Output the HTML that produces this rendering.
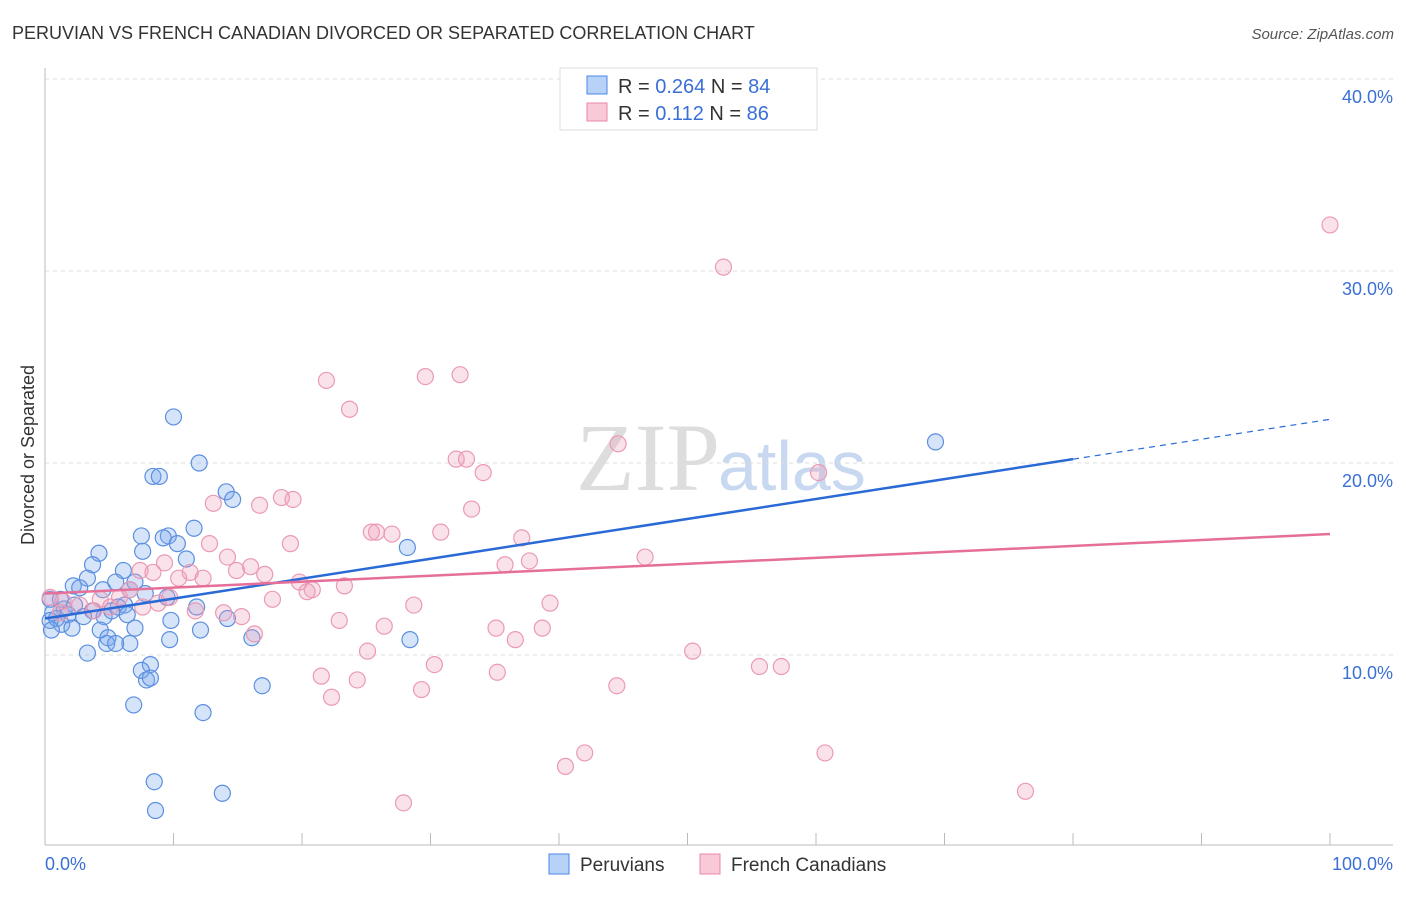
<!DOCTYPE html>
<html><head><meta charset="utf-8"><style>
body{margin:0;background:#fff;font-family:"Liberation Sans",sans-serif}
</style></head><body>
<svg width="1406" height="892" id="c" xmlns="http://www.w3.org/2000/svg">
<text x="12" y="39" font-size="18" fill="#333">PERUVIAN VS FRENCH CANADIAN DIVORCED OR SEPARATED CORRELATION CHART</text>
<text x="1394" y="39" font-size="15" fill="#555" text-anchor="end" font-style="italic">Source: ZipAtlas.com</text>
<text x="34" y="455" font-size="18" fill="#333" text-anchor="middle" transform="rotate(-90 34 455)">Divorced or Separated</text>
<text x="720" y="490" font-size="96" fill="#ddd" text-anchor="end" font-family="Liberation Serif">ZIP</text>
<text x="718" y="490" font-size="70" fill="#c8d8f0">atlas</text>
<g id="grid"></g><g id="pts"></g><g id="lines"></g>
<g>
<rect x="560" y="68" width="257" height="62" fill="#fff" stroke="#ddd"/>
<rect x="587" y="76" width="20" height="18" fill="#b7d1f7" stroke="#4a86e8"/>
<rect x="587" y="103" width="20" height="18" fill="#f9c9d8" stroke="#e88aa8"/>
<text x="618" y="93" font-size="20" fill="#333">R = <tspan fill="#3a6fd6">0.264</tspan>   N = <tspan fill="#3a6fd6">84</tspan></text>
<text x="618" y="120" font-size="20" fill="#333">R =  <tspan fill="#3a6fd6">0.112</tspan>   N = <tspan fill="#3a6fd6">86</tspan></text>
</g>
<g>
<rect x="549" y="854" width="20" height="20" fill="#b7d1f7" stroke="#4a86e8"/>
<text x="580" y="871" font-size="19" fill="#333">Peruvians</text>
<rect x="700" y="854" width="20" height="20" fill="#f9c9d8" stroke="#e88aa8"/>
<text x="731" y="871" font-size="19" fill="#333">French Canadians</text>
</g>
<text x="45" y="870" font-size="18" fill="#3a6fd6">0.0%</text>
<text x="1393" y="870" font-size="18" fill="#3a6fd6" text-anchor="end">100.0%</text>
</svg>
<script>
const yTicks=[10,20,30,40];
const yTickLabels=["10.0%","20.0%","30.0%","40.0%"];
const blueX=[10.0,12.0,8.4,8.9,14.1,14.6,69.3,28.2,11.6,7.5,9.6,9.2,10.3,7.6,4.2,11.0,3.7,6.1,3.3,2.2,2.7,5.5,7.0,4.5,6.6,7.8,9.5,1.2,0.4,1.5,2.3,3.7,5.7,6.2,11.8,0.6,0.9,1.8,3.0,4.6,6.4,9.8,14.2,0.4,1.3,2.1,7.0,12.1,4.3,4.9,4.8,6.6,5.5,9.7,16.1,28.4,3.3,8.2,7.5,7.9,8.2,16.9,6.9,12.3,8.5,13.8,8.6,0.5,5.2];
const blueY=[22.4,20.0,19.3,19.3,18.5,18.1,21.1,15.6,16.6,16.2,16.2,16.1,15.8,15.4,15.3,15.0,14.7,14.4,14.0,13.6,13.5,13.8,13.8,13.4,13.4,13.2,13.0,12.9,12.9,12.4,12.6,12.3,12.5,12.6,12.5,12.2,11.9,12.1,12.0,12.0,12.1,11.8,11.9,11.8,11.6,11.4,11.4,11.3,11.3,10.9,10.6,10.6,10.6,10.8,10.9,10.8,10.1,9.5,9.2,8.7,8.8,8.4,7.4,7.0,3.4,2.8,1.9,11.3,12.3];
const pinkX=[100,52.8,21.9,29.6,32.3,23.7,44.6,32.0,32.8,34.1,60.2,18.4,19.3,13.1,16.7,33.2,25.4,25.8,27.0,30.8,37.1,12.8,19.1,46.7,14.2,37.7,35.8,9.3,16.0,14.9,7.4,8.4,11.3,17.1,12.3,10.4,19.8,23.3,20.8,20.4,6.6,0.4,1.4,4.3,5.8,9.7,17.7,8.8,39.3,28.7,2.7,7.6,11.7,13.9,3.8,15.3,22.9,26.4,35.1,38.7,16.3,36.6,25.1,50.4,30.3,55.6,57.3,21.5,35.2,24.3,29.3,44.5,22.3,42.0,60.7,40.5,76.3,27.9,1.2,5.1];
const pinkY=[32.4,30.2,24.3,24.5,24.6,22.8,21.0,20.2,20.2,19.5,19.5,18.2,18.1,17.9,17.8,17.6,16.4,16.4,16.3,16.4,16.1,15.8,15.8,15.1,15.1,14.9,14.7,14.8,14.6,14.4,14.4,14.3,14.3,14.2,14.0,14.0,13.8,13.6,13.4,13.3,13.4,13.0,12.8,12.9,13.0,13.0,12.9,12.7,12.7,12.6,12.6,12.5,12.3,12.2,12.3,12.0,11.8,11.5,11.4,11.4,11.1,10.8,10.2,10.2,9.5,9.4,9.4,8.9,9.1,8.7,8.2,8.4,7.8,4.9,4.9,4.2,2.9,2.3,12.2,12.5];
const blueTrend=[11.9,20.2];   // y at x=0 and x=80
const pinkTrend=[13.2,16.3];   // y at x=0 and x=100
const NS="http://www.w3.org/2000/svg";
const X=v=>45+v*12.85, Y=v=>847-v*19.2;
function mk(t,a,p){const e=document.createElementNS(NS,t);for(const k in a)e.setAttribute(k,a[k]);document.getElementById(p).appendChild(e);return e;}
mk('line',{x1:45,y1:68,x2:45,y2:845,stroke:'#bbb'},'grid');
mk('line',{x1:45,y1:845,x2:1393,y2:845,stroke:'#bbb'},'grid');
for(let i=1;i<=10;i++){const t=mk('line',{x1:X(i*10),y1:845,x2:X(i*10),y2:833,stroke:'#bbb'},'grid');

}
yTicks.forEach((v,i)=>{const g=mk('line',{x1:45,y1:Y(v),x2:1393,y2:Y(v),stroke:'#ddd','stroke-dasharray':'4 4'},'grid');


const t=mk('text',{x:1393,y:Y(v)+24,'font-size':18,fill:'#3a6fd6','text-anchor':'end'},'grid');t.textContent=yTickLabels[i];

});
blueX.forEach((x,i)=>{const c=mk('circle',{cx:X(x),cy:Y(blueY[i]),r:8,fill:'rgba(120,165,235,0.3)',stroke:'#5b8fe0','stroke-width':1.2},'pts');

});
pinkX.forEach((x,i)=>{const c=mk('circle',{cx:X(x),cy:Y(pinkY[i]),r:8,fill:'rgba(240,160,185,0.3)',stroke:'#eb9ab4','stroke-width':1.2},'pts');

});
const bs=(blueTrend[1]-blueTrend[0])/80;
let l=mk('line',{x1:X(0),y1:Y(blueTrend[0]),x2:X(80),y2:Y(blueTrend[1]),stroke:'#2a6ad6','stroke-width':2.5},'lines');


l=mk('line',{x1:X(80),y1:Y(blueTrend[1]),x2:X(100),y2:Y(blueTrend[0]+bs*100),stroke:'#2a6ad6','stroke-width':1.2,'stroke-dasharray':'6 5'},'lines');


l=mk('line',{x1:X(0),y1:Y(pinkTrend[0]),x2:X(100),y2:Y(pinkTrend[1]),stroke:'#e56f98','stroke-width':2.5},'lines');


</script>
</body></html>
